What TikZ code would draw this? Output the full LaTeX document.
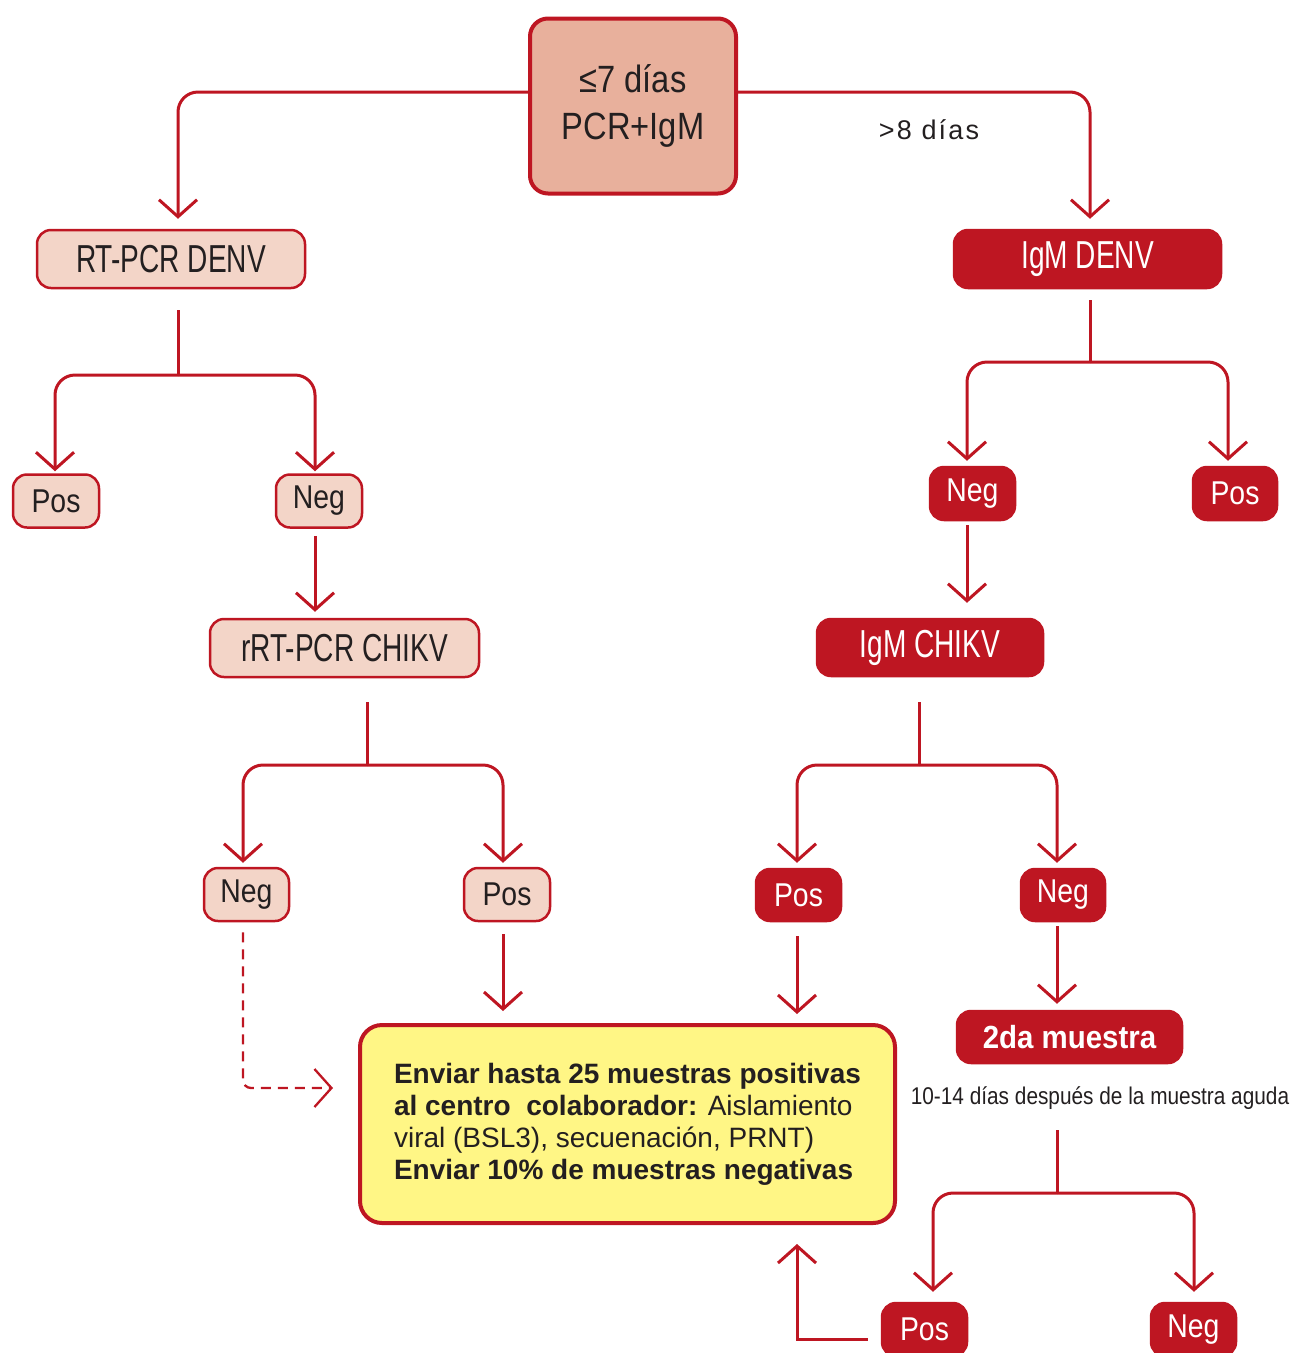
\documentclass[tikz,border=0pt]{standalone}
\usepackage{fontspec}
\setmainfont{Liberation Sans}
\newfontfamily\condfont[FakeStretch=0.72]{Liberation Sans}
\newfontfamily\semifont[FakeStretch=0.86]{Liberation Sans}
\newfontfamily\bcfont[FakeStretch=0.92]{Liberation Sans}
\newfontfamily\spacedfont[LetterSpace=8]{Liberation Sans}
\usetikzlibrary{arrows.meta}
\definecolor{rd}{HTML}{BE1622}
\definecolor{pinkf}{HTML}{F3D5C8}
\definecolor{salm}{HTML}{E8B09C}
\definecolor{yel}{HTML}{FFF685}
\definecolor{ink}{HTML}{231F20}
\tikzset{
  lightbox/.style={draw=rd, fill=pinkf, line width=2.5pt, rounded corners=14pt, inner sep=0pt, text=ink},
  darkbox/.style={draw=rd, fill=rd, line width=2.5pt, rounded corners=14pt, inner sep=0pt, text=white},
  bigl/.style={font=\condfont\fontsize{39}{44}\selectfont},
  smalll/.style={font=\semifont\fontsize{33}{38}\selectfont},
  conn/.style={draw=rd, line width=3pt},
  arr/.style={conn, -{Straight Barb[length=17pt,width=38pt]}},
  rcorner/.style={rounded corners=20pt}
}
\begin{document}
\begin{tikzpicture}[x=1pt,y=-1pt]
\useasboundingbox (0,0) rectangle (1294,1353);

% nodes
\node[draw=rd, fill=salm, line width=4pt, rounded corners=18pt, inner sep=0pt, text=ink,
      minimum width=206pt, minimum height=175pt, align=center,
      font=\semifont\fontsize{38}{47}\selectfont] (top) at (633,106) {≤7 días\\PCR+IgM};
\node[text=ink, font=\spacedfont\fontsize{27}{30}\selectfont] (gt8) at (929,130) {>8 días};

\node[lightbox, bigl, minimum width=268pt, minimum height=58pt] (rtd) at (171,259) {RT-PCR DENV};
\node[lightbox, smalll, minimum width=86pt, minimum height=53pt] (p1) at (56,501) {Pos};
\node[lightbox, smalll, minimum width=86pt, minimum height=53pt] (n1) at (319,501) {Neg};
\node[lightbox, bigl, minimum width=269pt, minimum height=58pt] (rch) at (344.5,648) {rRT-PCR CHIKV};
\node[lightbox, smalll, minimum width=85pt, minimum height=53pt] (n2) at (246.5,894.5) {Neg};
\node[lightbox, smalll, minimum width=86pt, minimum height=53pt] (p2) at (507,894.5) {Pos};

\node[draw=rd, fill=yel, line width=4pt, rounded corners=22pt, inner sep=0pt, text=ink,
      minimum width=535pt, minimum height=198pt, align=left,
      font=\fontsize{28}{32}\selectfont] (yel) at (627.5,1124)
  {\textbf{Enviar hasta 25 muestras positivas}\\
   \textbf{al centro\ \ colaborador:} Aislamiento\\
   viral (BSL3), secuenación, PRNT)\\
   \textbf{Enviar 10\% de muestras negativas}\hspace*{0pt}};

\node[darkbox, bigl, minimum width=267pt, minimum height=58pt] (idn) at (1087.5,259) {IgM DENV};
\node[darkbox, smalll, minimum width=85pt, minimum height=53pt] (n3) at (972.5,493.5) {Neg};
\node[darkbox, smalll, minimum width=84pt, minimum height=53pt] (p3) at (1235,493.5) {Pos};
\node[darkbox, bigl, minimum width=226pt, minimum height=57pt] (ich) at (930,647.5) {IgM CHIKV};
\node[darkbox, smalll, minimum width=85pt, minimum height=52pt] (p4) at (798.5,895) {Pos};
\node[darkbox, smalll, minimum width=84pt, minimum height=52pt] (n4) at (1063,895) {Neg};
\node[darkbox, minimum width=225pt, minimum height=52pt,
      font=\bcfont\bfseries\fontsize{32}{36}\selectfont] (seg) at (1069.5,1037) {2da muestra};
\node[text=ink, font=\semifont\fontsize{24.2}{28}\selectfont] (cap) at (1100,1098)
  {10-14 días después de la muestra aguda};
\node[darkbox, smalll, minimum width=85pt, minimum height=53pt] (p5) at (924.5,1329.5) {Pos};
\node[darkbox, smalll, minimum width=85pt, minimum height=53pt] (n5) at (1193.5,1329.5) {Neg};

% junctions and line anchors
\coordinate (j1) at (178,375);
\coordinate (j2) at (367,765);
\coordinate (j3) at (1090,362);
\coordinate (j4) at (919,765);
\coordinate (j5) at (1057,1193);

\coordinate (tl) at ([yshift=14pt]top.west);
\coordinate (tr) at ([yshift=14pt]top.east);
\coordinate (rtdn) at ([xshift=7pt]rtd.north);
\coordinate (idnn) at ([xshift=2.5pt]idn.north);
\coordinate (p1n) at ([xshift=-1pt]p1.north);
\coordinate (n1n) at ([xshift=-4pt]n1.north);
\coordinate (n1s) at ([xshift=-4pt]n1.south);
\coordinate (n2n) at ([xshift=-3.5pt]n2.north);
\coordinate (n2s) at ([xshift=-3.5pt]n2.south);
\coordinate (p2n) at ([xshift=-4pt]p2.north);
\coordinate (p2s) at ([xshift=-4pt]p2.south);
\coordinate (n3n) at ([xshift=-5.5pt]n3.north);
\coordinate (n3s) at ([xshift=-5.5pt]n3.south);
\coordinate (p3n) at ([xshift=-7pt]p3.north);
\coordinate (p4n) at ([xshift=-1.5pt]p4.north);
\coordinate (p4s) at ([xshift=-1.5pt]p4.south);
\coordinate (n4n) at ([xshift=-6pt]n4.north);
\coordinate (n4s) at ([xshift=-6pt]n4.south);
\coordinate (p5n) at ([xshift=8.5pt]p5.north);
\coordinate (n5n) at ([xshift=0.5pt]n5.north);
\coordinate (p5w) at ([yshift=-10pt]p5.west);
\coordinate (yw) at ([yshift=36pt]yel.west);

% top branches
\draw[arr, rcorner, shorten >=10pt] (tl) -| (rtdn);
\draw[arr, rcorner, shorten >=10pt] (tr) -| (idnn);

% left column
\draw[conn, shorten <=21pt] (rtd.south -| j1) -- (j1);
\draw[arr, rcorner, shorten >=2pt] (j1) -| (p1n);
\draw[arr, rcorner, shorten >=2pt] (j1) -| (n1n);
\draw[arr, shorten <=7pt, shorten >=6pt] (n1s) -- (n1s |- rch.north);
\draw[conn, shorten <=24pt] (rch.south -| j2) -- (j2);
\draw[arr, rcorner, shorten >=4pt] (j2) -| (n2n);
\draw[arr, rcorner, shorten >=4pt] (j2) -| (p2n);
\draw[conn, line width=2.3pt, dash pattern=on 10pt off 7pt, rounded corners=8pt,
      -{Straight Barb[length=17pt,width=38pt]}, shorten <=10pt, shorten >=25pt] (n2s) |- (yw);
\draw[arr, shorten <=12pt, shorten >=12pt] (p2s) -- (p2s |- yel.north);

% right column
\draw[conn, shorten <=11pt] (idn.south -| j3) -- (j3);
\draw[arr, rcorner, shorten >=5pt] (j3) -| (n3n);
\draw[arr, rcorner, shorten >=5pt] (j3) -| (p3n);
\draw[arr, shorten <=4pt, shorten >=15pt] (n3s) -- (n3s |- ich.north);
\draw[conn, shorten <=25pt] (ich.south -| j4) -- (j4);
\draw[arr, rcorner, shorten >=5pt] (j4) -| (p4n);
\draw[arr, rcorner, shorten >=5pt] (j4) -| (n4n);
\draw[arr, shorten <=14pt, shorten >=9pt] (p4s) -- (p4s |- yel.north);
\draw[arr, shorten <=4pt, shorten >=6pt] (n4s) -- (n4s |- seg.north);
\draw[conn, shorten <=66pt] (seg.south -| j5) -- (j5);
\draw[arr, rcorner, shorten >=10pt] (j5) -| (p5n);
\draw[arr, rcorner, shorten >=10pt] (j5) -| (n5n);
\draw[arr, shorten <=13pt, shorten >=19pt] (p5w) -| (p4s |- yel.south);
\end{tikzpicture}
\end{document}
